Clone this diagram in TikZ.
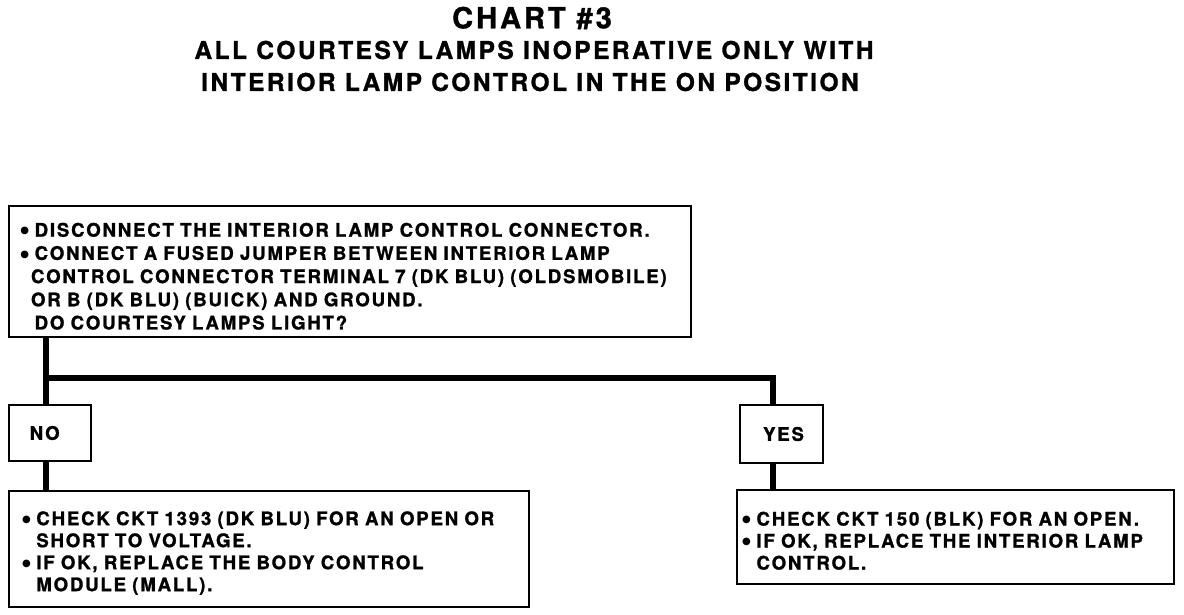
\documentclass[tikz,border=0pt]{standalone}
\usepackage{fontspec}
\setmainfont{TeX Gyre Heros}
\newfontfamily\boxfam{TeX Gyre Heros}[LetterSpace=9.5,FakeBold=1.2]
\newfontfamily\titlefam{TeX Gyre Heros}[LetterSpace=10,FakeBold=1.2]
\newfontfamily\dvfam{DejaVu Sans}
\newcommand\bu{\llap{\raisebox{2pt}{\dvfam\fontsize{7.5}{7.5}\selectfont ●}\hspace{4.2pt}}}
\begin{document}
\begin{tikzpicture}[x=0.75pt,y=-0.75pt,
  box/.style={draw, line width=1.5pt, rectangle, anchor=north west, inner ysep=0pt, align=left},
  boxtxt/.style={font=\boxfam\bfseries\fontsize{14}{17.4}\selectfont},
  restxt/.style={font=\boxfam\bfseries\fontsize{14}{16.5}\selectfont},
  lbl/.style={draw, line width=1.5pt, rectangle, anchor=north west, inner sep=0pt, align=center, font=\boxfam\bfseries\fontsize{14}{16}\selectfont},
  conn/.style={line width=4.5pt},
  ttl/.style={font=\titlefam\bfseries\fontsize{18.4}{20}\selectfont},
  ttlbig/.style={font=\titlefam\bfseries\fontsize{21.8}{24}\selectfont}]
\useasboundingbox (0,0) rectangle (1184,614);

\node[ttlbig] (t1) at (532,18) {CHART \#3};
\node[ttl] (t2) at (534,50) {ALL COURTESY LAMPS INOPERATIVE ONLY WITH};
\node[ttl] (t3) at (530,82) {INTERIOR LAMP CONTROL IN THE ON POSITION};

\node[box, boxtxt, minimum width=511.5pt, minimum height=98.25pt, text width=504pt, inner xsep=3.75pt] (q) at (8,205)
 {\rule{0pt}{17.5pt}\hspace*{15.5pt}\bu DISCONNECT THE INTERIOR LAMP CONTROL CONNECTOR.\\
  \hspace*{15.5pt}\bu CONNECT A FUSED JUMPER BETWEEN INTERIOR LAMP\\
  \hspace*{12.75pt}CONTROL CONNECTOR TERMINAL 7 (DK BLU) (OLDSMOBILE)\\
  \hspace*{12.75pt}OR B (DK BLU) (BUICK) AND GROUND.\\
  \hspace*{15.5pt}DO COURTESY LAMPS LIGHT?};

\node[lbl, minimum width=61.5pt, minimum height=42pt] (no) at (8,404) {NO\hspace*{8pt}};
\node[lbl, minimum width=62.25pt, minimum height=43.5pt] (yes) at (739,404) {\hspace*{3pt}YES};

\node[box, restxt, minimum width=390pt, minimum height=87pt, text width=376pt, inner xsep=7pt] (nores) at (8,490)
 {\rule{0pt}{16.5pt}\hspace*{13.5pt}\bu CHECK CKT 1393 (DK BLU) FOR AN OPEN OR\\
  \hspace*{13.5pt}SHORT TO VOLTAGE.\\
  \hspace*{13.5pt}\bu IF OK, REPLACE THE BODY CONTROL\\
  \hspace*{13.5pt}MODULE (MALL).};

\node[box, restxt, minimum width=327.75pt, minimum height=70.5pt, text width=316.5pt, inner xsep=5.6pt] (yesres) at (736,489)
 {\rule{0pt}{16pt}\hspace*{9pt}\bu CHECK CKT 150 (BLK) FOR AN OPEN.\\
  \hspace*{9pt}\bu IF OK, REPLACE THE INTERIOR LAMP\\
  \hspace*{9pt}CONTROL.};

\coordinate (j1) at (46,378);
\coordinate (j2) at (773,378);
\draw[conn] (j1 |- q.south) -- (j1 |- no.north);
\draw[conn] (j1) -- (j2) -- (j2 |- yes.north);
\draw[conn] (j1 |- no.south) -- (j1 |- nores.north);
\draw[conn] (j2 |- yes.south) -- (j2 |- yesres.north);
\end{tikzpicture}
\end{document}
